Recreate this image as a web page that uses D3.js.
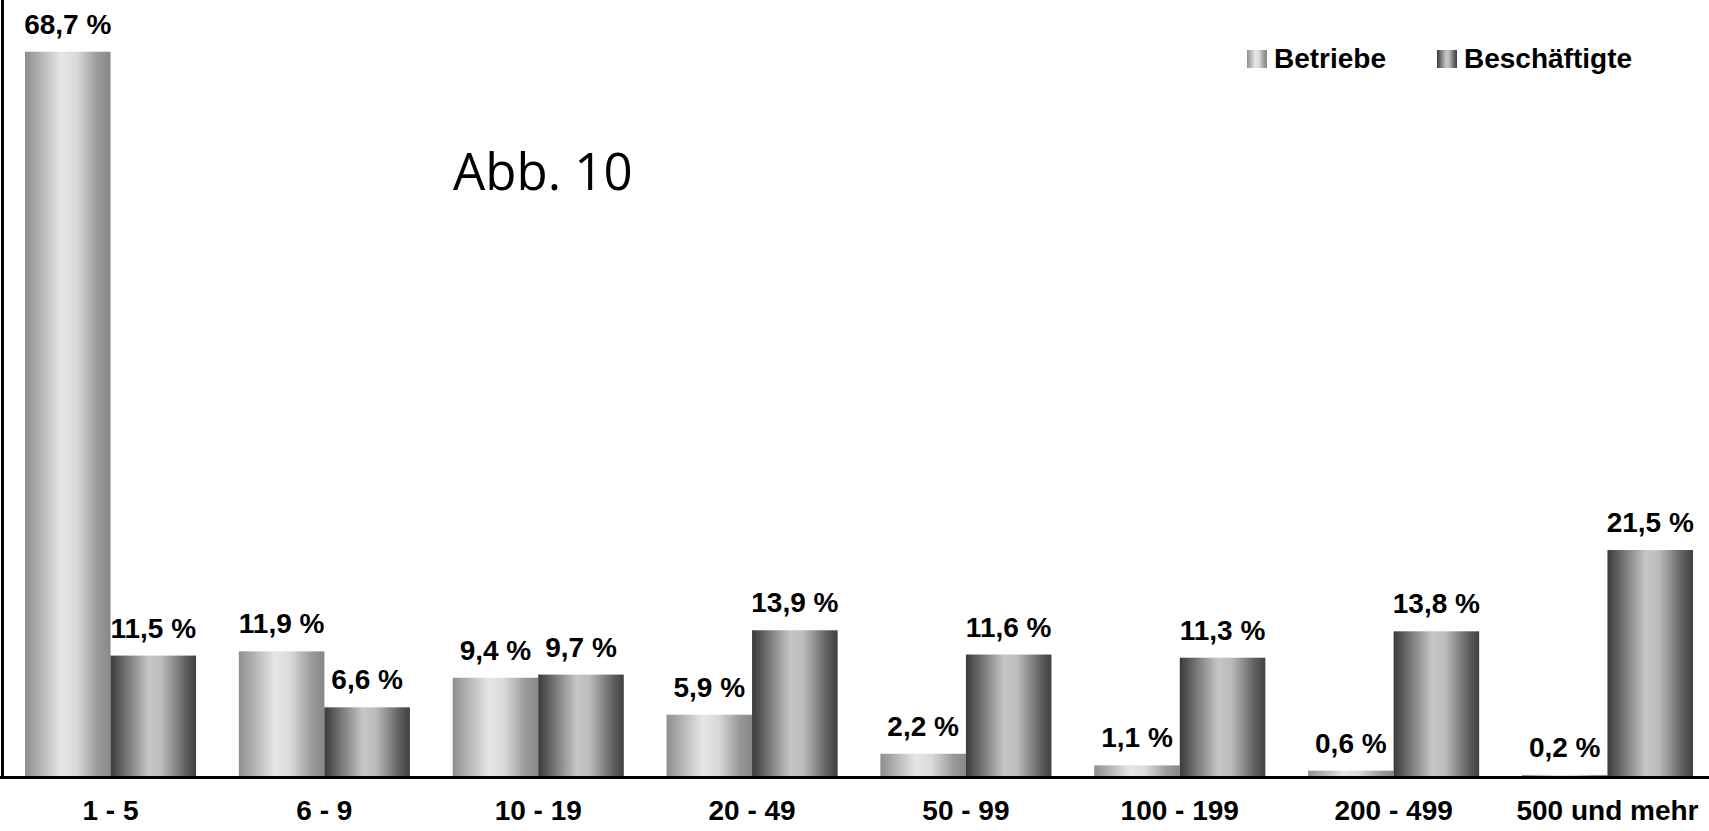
<!DOCTYPE html>
<html>
<head>
<meta charset="utf-8">
<script src="https://cdn.jsdelivr.net/npm/d3@7"></script>
<style>
  body { margin: 0; background: #fff; }
  svg { display: block; }
  .lbl { font-family: "Liberation Sans", Arial, sans-serif; font-weight: bold; font-size: 28px; fill: #000; }
</style>
</head>
<body>
<script>
// categories (Betriebsgroesse) and the two series, in percent
var categories = ["1 - 5", "6 - 9", "10 - 19", "20 - 49", "50 - 99", "100 - 199", "200 - 499", "500 und mehr"];
var seriesNames = ["Betriebe", "Beschäftigte"];
var betriebe = [68.7, 11.9, 9.4, 5.9, 2.2, 1.1, 0.6, 0.2];
var beschaeftigte = [11.5, 6.6, 9.7, 13.9, 11.6, 11.3, 13.8, 21.5];

var W = 1709, H = 831;
var baseY = 777;

var svg = d3.select("body").append("svg")
    .attr("width", W)
    .attr("height", H);

// gradients, a cylinder look for each series
var defs = svg.append("defs");
var grads = {
  "Betriebe": [[0, "#8e8e8e"], [0.42, "#e6e6e6"], [0.6, "#dadada"], [0.85, "#9a9a9a"], [1, "#888888"]],
  "Beschäftigte": [[0, "#3a3a3a"], [0.45, "#c6c6c6"], [0.6, "#bcbcbc"], [0.88, "#5e5e5e"], [1, "#404040"]]
};
seriesNames.forEach(function(s, i) {
  var g = defs.append("linearGradient")
      .attr("id", "grad" + i)
      .attr("x1", "0%").attr("x2", "100%")
      .attr("y1", "0%").attr("y2", "0%");
  grads[s].forEach(function(st) {
    g.append("stop").attr("offset", st[0]).attr("stop-color", st[1]);
  });
});

// scales
var x = d3.scaleBand()
    .domain(categories)
    .range([25, 1693])
    .paddingInner(0.2)
    .paddingOuter(0);
var xs = d3.scaleBand()
    .domain(seriesNames)
    .range([0, x.bandwidth()]);
var y = d3.scaleLinear()
    .domain([0, 70])
    .range([baseY, baseY - 739]);

var rows = categories.map(function(c, i) {
  return { cat: c, vals: [
    { s: seriesNames[0], v: betriebe[i], idx: 0 },
    { s: seriesNames[1], v: beschaeftigte[i], idx: 1 }
  ]};
});

var groups = svg.selectAll(".grp")
    .data(rows)
  .enter().append("g")
    .attr("class", "grp")
    .attr("transform", function(d) { return "translate(" + x(d.cat) + ",0)"; });

groups.selectAll("rect")
    .data(function(d) { return d.vals; })
  .enter().append("rect")
    .attr("x", function(d) { return xs(d.s); })
    .attr("width", xs.bandwidth())
    .attr("y", function(d) { return y(d.v); })
    .attr("height", function(d) { return baseY - y(d.v); })
    .attr("fill", function(d) { return "url(#grad" + d.idx + ")"; });

// value labels
groups.selectAll("text.val")
    .data(function(d) { return d.vals; })
  .enter().append("text")
    .attr("class", "lbl val")
    .attr("text-anchor", "middle")
    .attr("x", function(d) { return xs(d.s) + xs.bandwidth() / 2; })
    .attr("y", function(d) { return y(d.v) - 18; })
    .text(function(d) { return String(d.v).replace(".", ",") + " %"; });

// x axis: labels only, line drawn across full width
var xAxis = svg.append("g")
    .attr("transform", "translate(0," + baseY + ")")
    .call(d3.axisBottom(x).tickSize(0).tickPadding(0));
xAxis.select(".domain").remove();
xAxis.selectAll("text")
    .attr("class", "lbl")
    .attr("dy", null)
    .attr("y", 43)
    .style("font-size", "28px");

svg.append("line")
    .attr("x1", 0).attr("x2", W)
    .attr("y1", baseY + 0.5).attr("y2", baseY + 0.5)
    .attr("stroke", "#000").attr("stroke-width", 3);
svg.append("line")
    .attr("x1", 2.5).attr("x2", 2.5)
    .attr("y1", 0).attr("y2", baseY + 2)
    .attr("stroke", "#000").attr("stroke-width", 3);

// legend
var legend = svg.selectAll(".leg")
    .data(seriesNames)
  .enter().append("g")
    .attr("class", "leg")
    .attr("transform", function(d, i) { return "translate(" + [1247, 1437][i] + ",50)"; });
legend.append("rect")
    .attr("width", 20).attr("height", 18)
    .attr("fill", function(d, i) { return "url(#grad" + i + ")"; });
legend.append("text")
    .attr("class", "lbl")
    .attr("x", 27).attr("y", 18)
    .style("font-size", "28px")
    .text(function(d) { return d; });

// figure number
svg.append("text")
    .attr("x", 453).attr("y", 190)
    .style("font-family", "'Open Sans', 'Noto Sans', sans-serif")
    .style("font-size", "51px")
    .text("Abb. 10");
</script>
</body>
</html>
